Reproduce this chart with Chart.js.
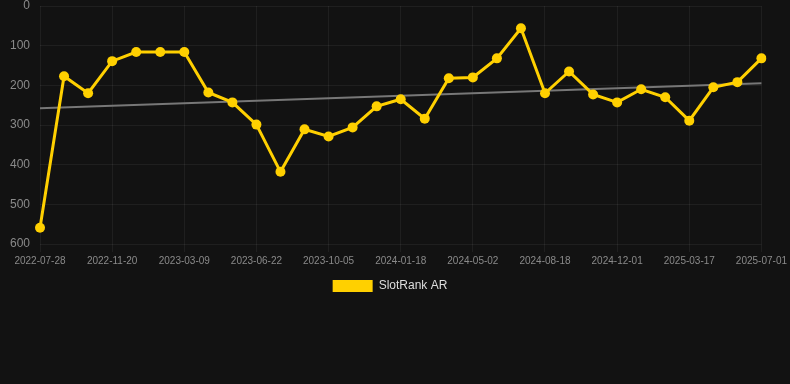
<!DOCTYPE html>
<html>
<head>
<meta charset="utf-8">
<script src="https://cdn.jsdelivr.net/npm/chart.js@4/dist/chart.umd.min.js"></script>
<style>
  html, body { margin: 0; padding: 0; background: #121212; }
  #wrap { position: relative; width: 790px; height: 302px; }
</style>
</head>
<body>
<div id="wrap"><canvas id="rank-chart"></canvas></div>
<script>
// dates along the x axis (only every third one is labelled)
const dateLabels = [
  '2022-07-28', '2022-09-05', '2022-10-13', '2022-11-20', '2022-12-26', '2023-01-31',
  '2023-03-09', '2023-04-13', '2023-05-18', '2023-06-22', '2023-07-27', '2023-08-31',
  '2023-10-05', '2023-11-09', '2023-12-14', '2024-01-18', '2024-02-22', '2024-03-28',
  '2024-05-02', '2024-06-08', '2024-07-13', '2024-08-18', '2024-09-21', '2024-10-27',
  '2024-12-01', '2025-01-05', '2025-02-10', '2025-03-17', '2025-04-21', '2025-05-27',
  '2025-07-01'
];

// rank values (lower = better, axis reversed)
const rankValues = [
  559, 177, 220, 139, 116, 116, 116, 218, 243, 299, 418, 311,
  329, 306, 253, 235, 284, 182, 180, 132, 56, 220, 165, 223,
  243, 210, 230, 289, 205, 192, 132
];

// trend line: only the two ends, joined across the gaps
const trendStart = 258;
const trendEnd = 195;
const trendValues = dateLabels.map((d, i) =>
  i === 0 ? trendStart : (i === dateLabels.length - 1 ? trendEnd : null));

const yTicks = [0, 100, 200, 300, 400, 500, 600];

const gridColor = 'rgba(255, 255, 255, 0.06)';
const tickColor = '#8a8a8a';

new Chart(document.getElementById('rank-chart'), {
  type: 'line',
  data: {
    labels: dateLabels,
    datasets: [
      {
        label: 'SlotRank AR',
        data: rankValues,
        borderColor: '#ffd000',
        backgroundColor: '#ffd000',
        borderWidth: 3,
        pointRadius: 5,
        pointBackgroundColor: '#ffd000',
        pointBorderWidth: 0,
        tension: 0
      },
      {
        label: 'trend',
        data: trendValues,
        spanGaps: true,
        borderColor: '#777777',
        borderWidth: 2,
        pointRadius: 0,
        tension: 0
      }
    ]
  },
  options: {
    responsive: true,
    maintainAspectRatio: false,
    animation: false,
    layout: { padding: { left: 10, right: 20, top: 0, bottom: 0 } },
    plugins: {
      legend: {
        position: 'bottom',
        labels: {
          color: '#dddddd',
          boxWidth: 40,
          boxHeight: 12,
          font: { size: 12 },
          filter: (item) => item.text !== 'trend',
          generateLabels: (chart) =>
            Chart.defaults.plugins.legend.labels.generateLabels(chart)
              .map(item => Object.assign(item, { lineWidth: 0 }))
        }
      },
      tooltip: { enabled: false }
    },
    scales: {
      x: {
        grid: { color: gridColor },
        border: { display: false },
        ticks: {
          color: tickColor,
          font: { size: 10 },
          autoSkip: false,
          maxRotation: 0,
          callback: function(value, index) {
            return index % 3 === 0 ? dateLabels[index] : null;
          }
        }
      },
      y: {
        reverse: true,
        min: 0,
        max: 600,
        afterBuildTicks: (axis) => { axis.ticks = yTicks.map(v => ({ value: v })); },
        afterFit: (axis) => { axis.width = 30; axis.paddingTop = 6; },
        grid: { color: gridColor, drawTicks: false },
        border: { display: false },
        ticks: {
          color: tickColor,
          font: { size: 12 },
          padding: 10
        }
      }
    }
  }
});
</script>
</body>
</html>
